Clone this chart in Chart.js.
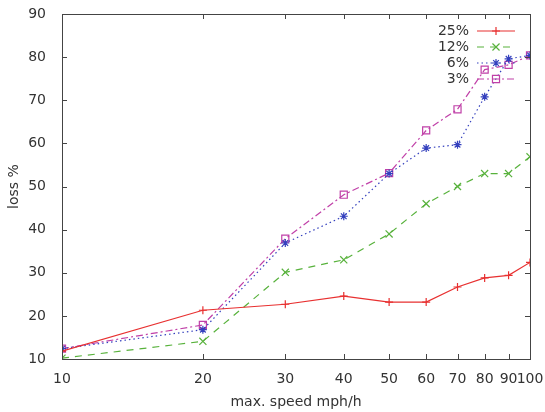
<!DOCTYPE html>
<html>
<head>
<meta charset="utf-8">
<script src="https://cdn.jsdelivr.net/npm/chart.js@4/dist/chart.umd.min.js"></script>
<style>
  html, body { margin: 0; padding: 0; background: #fff; }
  #wrap { width: 545px; height: 412px; }
</style>
</head>
<body>
<div id="wrap"><canvas id="chart" width="545" height="412"></canvas></div>
<script>
// Dados
const speeds = [10, 20, 30, 40, 50, 60, 70, 80, 90, 100];
const loss25 = [11.8, 21.3, 22.7, 24.6, 23.2, 23.2, 26.7, 28.8, 29.4, 32.4];
const loss12 = [10.2, 14.1, 30.1, 33.0, 39.0, 46.0, 50.0, 53.0, 53.0, 56.9];
const loss6 = [12.4, 16.8, 36.9, 43.1, 53.0, 58.9, 59.7, 70.8, 79.6, 80.4];
const loss3 = [12.4, 17.9, 37.9, 48.1, 53.1, 63.0, 67.9, 77.1, 78.2, 80.4];
const seriesNames = ['25%', '12%', '6%', '3%'];
const xTicks = [10, 20, 30, 40, 50, 60, 70, 80, 90, 100];
const yTicks = [10, 20, 30, 40, 50, 60, 70, 80, 90];

const FONT = 'DejaVu Sans';
const TEXT = '#333333';

function toPoints(values) {
  return values.map((v, i) => ({ x: speeds[i], y: v }));
}

const styles = [
  { color: 'rgb(232,48,48)', dash: [], pointStyle: 'cross', radius: 4 },
  { color: 'rgb(88,178,60)', dash: [7, 6], pointStyle: 'crossRot', radius: 5 },
  { color: 'rgb(52,64,190)', dash: [1.5, 3], pointStyle: 'star', radius: 4 },
  { color: 'rgb(192,64,168)', dash: [7, 3, 2, 3], pointStyle: 'rect', radius: 5 }
];

const allSeries = [loss25, loss12, loss6, loss3];

const datasets = allSeries.map((values, i) => ({
  label: seriesNames[i],
  data: toPoints(values),
  borderColor: styles[i].color,
  backgroundColor: 'rgba(0,0,0,0)',
  borderWidth: 1.2,
  borderDash: styles[i].dash,
  pointStyle: styles[i].pointStyle,
  pointRadius: styles[i].radius,
  pointBorderColor: styles[i].color,
  pointBackgroundColor: 'rgba(0,0,0,0)',
  pointBorderWidth: 1.2,
  tension: 0
}));

// Moldura e marcas internas (estilo gnuplot)
const framePlugin = {
  id: 'frame',
  afterDatasetsDraw(chart) {
    const { ctx, chartArea: a, scales } = chart;
    ctx.save();
    ctx.strokeStyle = '#444';
    ctx.lineWidth = 1;
    ctx.setLineDash([]);
    ctx.beginPath();
    xTicks.forEach(v => {
      const px = Math.round(scales.x.getPixelForValue(v)) + 0.5;
      ctx.moveTo(px, a.bottom); ctx.lineTo(px, a.bottom - 5);
      ctx.moveTo(px, a.top); ctx.lineTo(px, a.top + 5);
    });
    yTicks.forEach(v => {
      const py = Math.round(scales.y.getPixelForValue(v)) + 0.5;
      ctx.moveTo(a.left, py); ctx.lineTo(a.left + 5, py);
      ctx.moveTo(a.right, py); ctx.lineTo(a.right - 5, py);
    });
    ctx.stroke();
    ctx.strokeRect(Math.round(a.left) + 0.5, Math.round(a.top) + 0.5,
      Math.round(a.right - a.left), Math.round(a.bottom - a.top));

    // Legenda
    const rowY = [31, 47, 63, 79];
    ctx.font = '14px "' + FONT + '"';
    ctx.textAlign = 'right';
    ctx.textBaseline = 'middle';
    chart.data.datasets.forEach((ds, i) => {
      const y = rowY[i];
      ctx.fillStyle = TEXT;
      ctx.fillText(ds.label, 469, y);
      ctx.strokeStyle = ds.borderColor;
      ctx.fillStyle = 'rgba(0,0,0,0)';
      ctx.lineWidth = 1.2;
      ctx.setLineDash(ds.borderDash);
      ctx.beginPath();
      ctx.moveTo(477, y);
      ctx.lineTo(515, y);
      ctx.stroke();
      ctx.setLineDash([]);
      Chart.helpers.drawPoint(ctx, {
        pointStyle: ds.pointStyle,
        radius: ds.pointRadius,
        rotation: 0,
        borderWidth: 1.2
      }, 496, y);
    });
    ctx.restore();
  }
};

new Chart(document.getElementById('chart').getContext('2d'), {
  type: 'line',
  data: { datasets: datasets },
  plugins: [framePlugin],
  options: {
    responsive: false,
    animation: false,
    layout: { padding: { left: 0, right: 15, top: 14, bottom: 0 } },
    plugins: { legend: { display: false }, tooltip: { enabled: false } },
    scales: {
      x: {
        type: 'logarithmic',
        min: 10,
        max: 100,
        afterBuildTicks: scale => { scale.ticks = xTicks.map(v => ({ value: v })); },
        afterFit: scale => {
          scale.height = 53;
          scale.paddingLeft = 0;
          scale.paddingRight = 0;
        },
        grid: { display: false },
        border: { display: false },
        ticks: {
          autoSkip: false,
          maxRotation: 0,
          padding: 4,
          color: TEXT,
          font: { family: FONT, size: 14 },
          callback: v => String(v)
        },
        title: {
          display: true,
          text: 'max. speed mph/h',
          color: TEXT,
          font: { family: FONT, size: 14 },
          padding: { top: 4, bottom: 1 }
        }
      },
      y: {
        type: 'linear',
        min: 10,
        max: 90,
        afterBuildTicks: scale => { scale.ticks = yTicks.map(v => ({ value: v })); },
        afterFit: scale => {
          scale.width = 62;
          scale.paddingTop = 0;
          scale.paddingBottom = 0;
        },
        grid: { display: false },
        border: { display: false },
        ticks: {
          padding: 8,
          color: TEXT,
          font: { family: FONT, size: 14 }
        },
        title: {
          display: true,
          text: 'loss %',
          color: TEXT,
          font: { family: FONT, size: 14 },
          padding: { top: 6, bottom: 0 }
        }
      }
    }
  }
});
</script>
</body>
</html>
